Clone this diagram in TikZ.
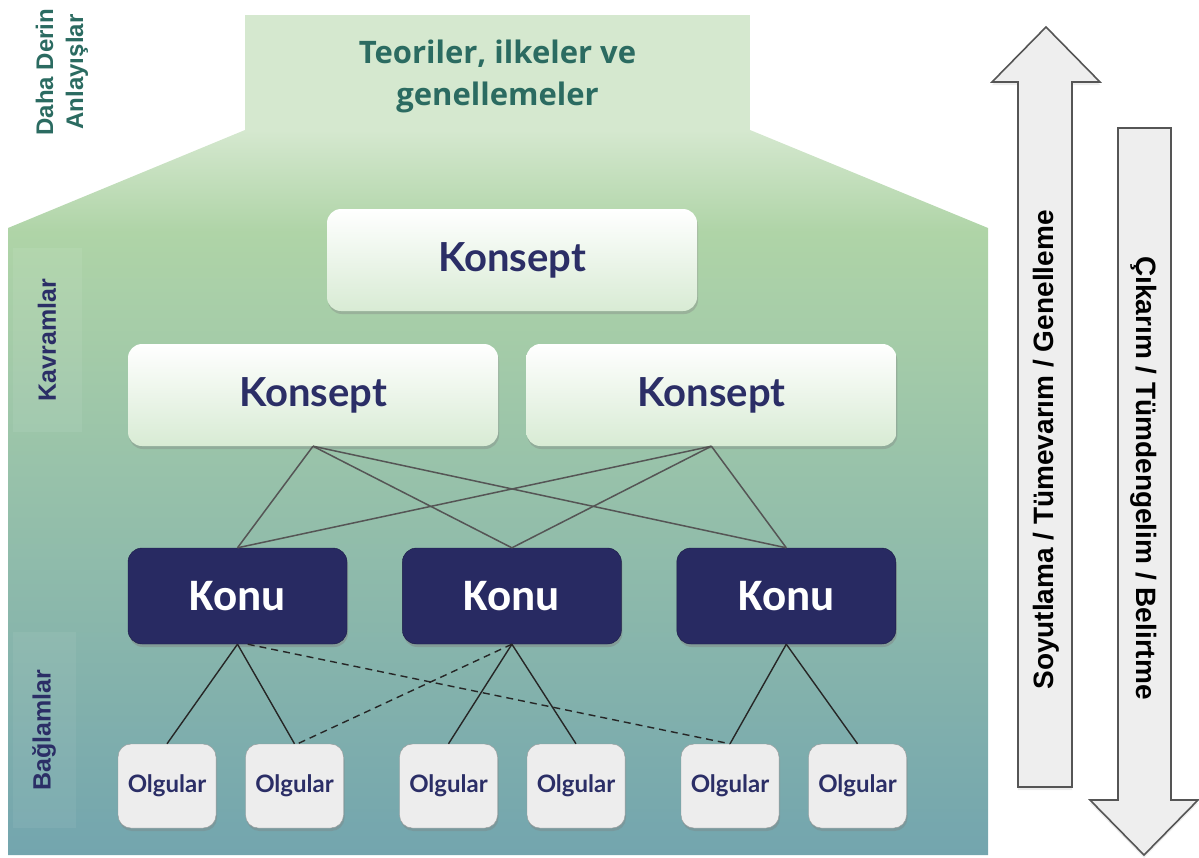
\documentclass[tikz,border=0pt]{standalone}
\usepackage{fontspec}
\usepackage{xcolor}
\usepackage{tikz}
\usetikzlibrary{positioning,shadows}
\setmainfont{Liberation Sans}
\newfontfamily\titlefont{Open Sans}
\newfontfamily\konseptfont{Lato}
\newfontfamily\konufont{Carlito}
\definecolor{paletop}{HTML}{D5E8CF}
\definecolor{midgreen}{HTML}{AFD4A7}
\definecolor{lowteal}{HTML}{73A5AE}
\definecolor{tealtext}{HTML}{2B6B61}
\definecolor{navy}{HTML}{282A62}
\definecolor{navytext}{HTML}{2B2E66}
\definecolor{konseptlow}{HTML}{D8EBD4}
\definecolor{factfill}{HTML}{EDEDED}
\definecolor{arrowfill}{HTML}{EEEEEE}
\definecolor{arrowline}{HTML}{555555}
\pgfdeclareverticalshading{bgshade}{100bp}{color(0bp)=(lowteal); color(25bp)=(lowteal); color(68bp)=(midgreen); color(75bp)=(paletop); color(100bp)=(paletop)}

\begin{document}
\begin{tikzpicture}[
  x=1pt,y=-1pt,
  node distance=28pt and 28pt,
  konsept/.style={rounded corners=14pt,top color=white,bottom color=konseptlow,minimum width=370pt,minimum height=102pt,
    font=\konseptfont\bfseries\fontsize{40}{46}\selectfont,text=navytext,drop shadow={opacity=0.35,shadow xshift=1pt,shadow yshift=-3pt}},
  konu/.style={rounded corners=14pt,fill=navy,draw=navy!70!black,minimum width=219pt,minimum height=96pt,
    font=\konufont\bfseries\fontsize{45}{50}\selectfont,text=white,drop shadow={opacity=0.45,shadow xshift=1pt,shadow yshift=-3pt}},
  olgu/.style={rounded corners=13pt,fill=factfill,draw=gray!80,minimum width=98pt,minimum height=84pt,
    font=\konseptfont\bfseries\fontsize{24}{28}\selectfont,text=navytext,drop shadow={opacity=0.35,shadow xshift=1pt,shadow yshift=-3pt}},
  sidelabel/.style={rotate=90,font=\bfseries\fontsize{25}{28}\selectfont,align=center},
  link/.style={draw=arrowline,line width=1.5pt},
  sublink/.style={draw=black!85,line width=1.4pt},
  arrowbody/.style={fill=arrowfill,draw=arrowline,line width=1.6pt,drop shadow={opacity=0.15,shadow xshift=0pt,shadow yshift=-3pt}},
  arrowlabel/.style={font=\bfseries\fontsize{28}{32}\selectfont,text=black}
]
\useasboundingbox (0,0) rectangle (1199,857);

% background house
\shade[shading=bgshade] (8,228) -- (245,130) -- (750,130) -- (988,228) -- (988,855) -- (8,855) -- cycle;
\fill[paletop] (245,15) rectangle (750,130);
\node[font=\titlefont\bfseries\fontsize{31}{42}\selectfont,text=tealtext,align=center] (title) at (497.5,76) {Teoriler, ilkeler ve\\genellemeler};

% side labels
\node[sidelabel,text=tealtext,font=\bfseries\fontsize{24}{30}\selectfont] (derin) at (62,72) {Daha Derin\\Anlayışlar};
\fill[white,opacity=0.07] (13,248) rectangle (82,432);
\node[sidelabel,text=navytext] (kavram) at (47,340) {Kavramlar};
\fill[white,opacity=0.06] (13,632) rectangle (76,828);
\node[sidelabel,text=navytext] (baglam) at (44,730) {Bağlamlar};

% concepts
\node[konsept] (top) at (512,260) {Konsept};
\node[konsept] (kl) at (313,395) {Konsept};
\node[konsept,right=of kl] (kr) {Konsept};

% topics
\node[konu] (k1) at (237.5,596) {Konu};
\node[konu,right=55pt of k1] (k2) {Konu};
\node[konu,right=55pt of k2] (k3) {Konu};

% facts
\node[olgu] (o1) at (167,786) {Olgular};
\node[olgu] (o2) at (294.5,786) {Olgular};
\node[olgu] (o3) at (448.5,786) {Olgular};
\node[olgu] (o4) at (576,786) {Olgular};
\node[olgu] (o5) at (730,786) {Olgular};
\node[olgu] (o6) at (857.5,786) {Olgular};

% concept to topic
\draw[link] (kl.south) -- (k1.north);
\draw[link] (kl.south) -- (k2.north);
\draw[link] (kl.south) -- (k3.north);
\draw[link] (kr.south) -- (k1.north);
\draw[link] (kr.south) -- (k2.north);
\draw[link] (kr.south) -- (k3.north);

% topic to facts
\draw[sublink] (k1.south) -- (o1.north);
\draw[sublink] (k1.south) -- (o2.north);
\draw[sublink] (k2.south) -- (o3.north);
\draw[sublink] (k2.south) -- (o4.north);
\draw[sublink] (k3.south) -- (o5.north);
\draw[sublink] (k3.south) -- (o6.north);
\draw[sublink,dashed,dash pattern=on 7pt off 5pt] (k1.-78) -- (o5.north);
\draw[sublink,dashed,dash pattern=on 7pt off 5pt] (k2.south) -- ([xshift=3pt]o2.north);

% direction arrows
\draw[arrowbody] (1018,787) -- (1018,82) -- (992,82) -- (1046,27) -- (1100,82) -- (1072,82) -- (1072,787) -- cycle;
\node[arrowlabel,rotate=90] (upl) at (1046,450) {Soyutlama / Tümevarım / Genelleme};
\draw[arrowbody] (1118,128) -- (1118,800) -- (1090,800) -- (1144,855) -- (1198,800) -- (1171,800) -- (1171,128) -- cycle;
\node[arrowlabel,rotate=-90] (downl) at (1144,478) {Çıkarım / Tümdengelim / Belirtme};
\end{tikzpicture}
\end{document}
